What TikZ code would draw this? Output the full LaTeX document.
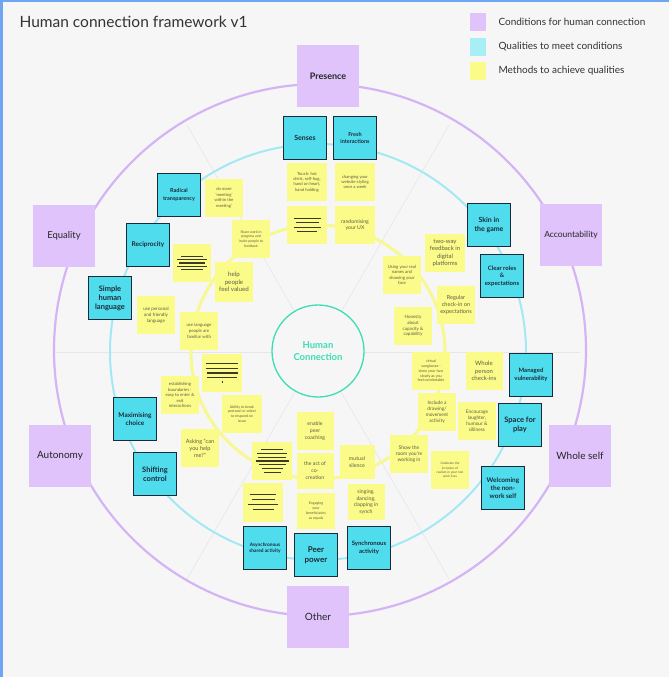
\documentclass[tikz,border=0pt]{standalone}
\usepackage{fontspec}
\setmainfont{Lato}
\usetikzlibrary{calc}
\definecolor{bg}{HTML}{F6F6F7}
\definecolor{framec}{HTML}{6EA6F2}
\definecolor{purp}{HTML}{DFC3FA}
\definecolor{purpring}{HTML}{D4B4F5}
\definecolor{cyanq}{HTML}{4FDDEE}
\definecolor{cyanring}{HTML}{A2E9F3}
\definecolor{legcyan}{HTML}{A8EEF6}
\definecolor{navy}{HTML}{1B2A38}
\definecolor{stickyc}{HTML}{FBFB8A}
\definecolor{yring}{HTML}{F8F890}
\definecolor{stext}{HTML}{5E5E42}
\definecolor{inkc}{HTML}{3A3A26}
\definecolor{tealc}{HTML}{3CDDB3}
\definecolor{spokec}{HTML}{E6E6E9}
\definecolor{titlec}{HTML}{333333}
\newcommand\fz[2]{\fontsize{#1}{#2}\selectfont}
\newcommand\lr[1]{\rule{#1pt}{1.1pt}}
\tikzset{
  cond/.style={rectangle, fill=purp, minimum width=62pt, minimum height=62pt, inner sep=0pt, text=black!85, align=center},
  qual/.style={rectangle, fill=cyanq, draw=navy, line width=1.4pt, minimum width=43pt, minimum height=43pt, inner sep=1pt, align=center, text=navy},
  meth/.style={rectangle, fill=stickyc, minimum width=38pt, minimum height=38pt, inner sep=1pt, align=center, text=stext},
  lnote/.style={meth, text=inkc},
  legsq/.style={rectangle, minimum width=16pt, minimum height=18pt, inner sep=0pt},
  legtxt/.style={anchor=west, text=titlec, font=\fz{10}{12}},
  spokeline/.style={draw=spokec, line width=0.6pt},
}
\begin{document}
\begin{tikzpicture}[x=1pt,y=-1pt]
\useasboundingbox (0,0) rectangle (669,677);
\fill[bg] (0,0) rectangle (669,677);
\draw[framec, line width=2pt] (0,1) -- (669,1);
\draw[framec, line width=3pt] (1.5,0) -- (1.5,677);

\coordinate (c) at (318,352);
\coordinate (pc) at (320,350);
% spokes
\foreach \a in {0,60,120,180,240,300}
  \draw[spokeline] ($(c)+(\a:47)$) -- ($(c)+(\a:262)$);
% rings
\draw[purpring, line width=2.2pt] (pc) circle[radius=266pt];
\draw[cyanring, line width=2pt] (c) circle[radius=208pt];
\draw[yring, line width=3pt] (c) circle[radius=127pt];

\node[circle, draw=tealc, line width=1.3pt, minimum size=92pt, inner sep=0pt, text=tealc, font=\bfseries\fz{9.5}{11.5}, align=center] (hc) at (318,351) {Human\\Connection};

% title and legend
\node[anchor=west, text=titlec, font=\fz{15.5}{18}] (title) at (16,22) {Human connection framework v1};
\node[legsq, fill=purp] (lg1) at (478,22) {};
\node[legtxt] (lt1) at (495,22) {Conditions for human connection};
\node[legsq, fill=legcyan] (lg2) at (478,47) {};
\node[legtxt] (lt2) at (495,47) {Qualities to meet conditions};
\node[legsq, fill=stickyc] (lg3) at (478,71) {};
\node[legtxt] (lt3) at (495,71) {Methods to achieve qualities};

% conditions
\node[cond, font=\bfseries\fz{9}{11}] (pres) at (328,76) {Presence};
\node[cond, font=\fz{8.5}{10}] (acc) at (571,235) {Accountability};
\node[cond, font=\fz{10}{12}] (whole) at (580,456) {Whole self};
\node[cond, font=\fz{10}{12}] (other) at (318,617) {Other};
\node[cond, font=\fz{10}{12}] (auto) at (60,456) {Autonomy};
\node[cond, font=\fz{9.5}{11}] (equal) at (64,236) {Equality};

% qualities
\node[qual, font=\bfseries\fz{7}{8.5}] (senses) at (305,138) {Senses};
\node[qual, font=\bfseries\fz{5.5}{7.5}] (fresh) at (355,138) {Fresh\\interactions};
\node[qual, font=\bfseries\fz{5.5}{7.5}] (radical) at (179,195) {Radical\\transparency};
\node[qual, font=\bfseries\fz{6.5}{8}] (recip) at (148,245) {Reciprocity};
\node[qual, font=\bfseries\fz{7.5}{9}] (simple) at (110,298) {Simple\\human\\language};
\node[qual, font=\bfseries\fz{7}{9}] (skin) at (489,225) {Skin in\\the game};
\node[qual, font=\bfseries\fz{6}{7.5}] (clear) at (502,276) {Clear roles\\\&\\expectations};
\node[qual, font=\bfseries\fz{6}{7.5}] (managed) at (531,375) {Managed\\vulnerability};
\node[qual, font=\bfseries\fz{7.5}{9.5}] (space) at (520,425) {Space for\\play};
\node[qual, font=\bfseries\fz{6.5}{8}] (welcome) at (503,488) {Welcoming\\the non-\\work self};
\node[qual, font=\bfseries\fz{6.5}{8}] (maxim) at (135,419) {Maximising\\choice};
\node[qual, font=\bfseries\fz{7.5}{9}] (shift) at (155,474) {Shifting\\control};
\node[qual, font=\bfseries\fz{4.8}{6.5}] (async) at (265,548) {Asynchronous\\shared activity};
\node[qual, font=\bfseries\fz{8}{10}] (peer) at (316,555) {Peer\\power};
\node[qual, font=\bfseries\fz{6}{7.5}] (sync) at (369,548) {Synchronous\\activity};

% methods
\node[meth, minimum width=40pt, font=\fz{4.2}{5.4}] (touch) at (307,182) {Touch: hot\\drink, self-hug,\\hand on heart,\\hand holding};
\node[meth, minimum width=40pt, font=\fz{4.2}{5.4}] (changing) at (355,182) {changing your\\website styling\\once a week};
\node[lnote, minimum width=40pt, font=\fz{4.6}{4.6}] (lines1) at (307,225) {\lr{27}\\\lr{23}\\\lr{27}\\\lr{20}};
\node[meth, minimum width=40pt, font=\fz{5.2}{6.4}] (random) at (355,225) {randomising\\your UX};
\node[meth, font=\fz{4.2}{5.6}] (domore) at (224,198) {do more\\'meeting'\\within the\\meeting'};
\node[meth, font=\fz{3.5}{4.6}] (share) at (251,239) {Share work in\\progress and\\invite people to\\feedback};
\node[lnote, font=\fz{3.4}{3.4}] (lines2) at (192,263) {\lr{22}\\\lr{30}\\\lr{26}\\\lr{30}\\\lr{22}};
\node[meth, minimum height=40pt, font=\fz{6.2}{7.6}] (help) at (234,282) {help\\people\\feel valued};
\node[meth, font=\fz{4.6}{5.8}] (personal) at (156,315) {use personal\\and friendly\\language};
\node[meth, font=\fz{4.4}{5.8}] (familiar) at (199,331) {use language\\people are\\familiar with};
\node[meth, minimum width=40pt, font=\fz{6}{7.4}] (twoway) at (445,253) {two-way\\feedback in\\digital\\platforms};
\node[meth, font=\fz{4.3}{5.5}] (realnames) at (402,275) {Using your real\\names and\\showing your\\face};
\node[meth, font=\fz{5.6}{7}] (regular) at (456,305) {Regular\\check-in on\\expectations};
\node[meth, font=\fz{4.5}{5.8}] (honesty) at (413,326) {Honesty\\about\\capacity \&\\capability};
\node[meth, font=\fz{3.7}{4.7}] (virtual) at (431,371) {virtual\\sunglasses -\\show your face\\slowly as you\\feel comfortable};
\node[meth, minimum width=37pt, font=\fz{6}{7.4}] (wperson) at (484,371) {Whole\\person\\check-ins};
\node[meth, font=\fz{4.8}{6}] (drawing) at (437,412) {Include a\\drawing/\\movement\\activity};
\node[meth, font=\fz{4.8}{6}] (laughter) at (477,421) {Encourage\\laughter,\\humour \&\\silliness};
\node[meth, font=\fz{5}{6.3}] (showroom) at (409,454) {Show the\\room you're\\working in};
\node[meth, font=\fz{3.2}{4.2}] (celebrate) at (450,470) {Celebrate the\\inclusion of\\realism in your non\\work lives};
\node[meth, font=\fz{4.3}{5.5}] (bounds) at (180,395) {establishing\\boundaries -\\easy to enter \&\\exit\\interactions};
\node[lnote, minimum width=40pt, font=\fz{4.6}{4.6}] (lines3) at (222,373) {\lr{32}\\\lr{32}\\\lr{31}\\\lr{30}\\\rule{0.6pt}{2.2pt}};
\node[meth, minimum width=40pt, font=\fz{3.6}{4.8}] (ability) at (242,414) {Ability to break\\protocol or select\\to respond on\\issue};
\node[meth, font=\fz{5.6}{7}] (asking) at (200,448) {Asking “can\\you help\\me?”};
\node[lnote, minimum width=40pt, font=\fz{3.8}{3.8}] (lines4) at (272,461) {\lr{22}\\\lr{30}\\\lr{28}\\\lr{33}\\\lr{27}\\\lr{21}\\\lr{17}};
\node[lnote, minimum width=40pt, minimum height=39pt, font=\fz{5}{5}] (lines5) at (263,502) {\lr{26}\\\lr{23}\\\lr{30}\\\lr{21}};
\node[meth, minimum width=37pt, font=\fz{5.2}{7}] (peercoach) at (315,431) {enable\\peer\\coaching};
\node[meth, minimum width=37pt, minimum height=36pt, font=\fz{5.2}{7}] (cocreate) at (315,471) {the act of\\co-\\creation};
\node[meth, minimum width=35pt, minimum height=34pt, font=\fz{5.3}{6.8}] (silence) at (357,462) {mutual\\silence};
\node[meth, minimum height=36pt, font=\fz{3.6}{4.8}] (engaging) at (316,511) {Engaging\\your\\beneficiaries\\as equals};
\node[meth, minimum width=37pt, minimum height=36pt, font=\fz{5.2}{6.8}] (singing) at (366,502) {singing,\\dancing,\\clapping in\\synch};
\end{tikzpicture}
\end{document}
